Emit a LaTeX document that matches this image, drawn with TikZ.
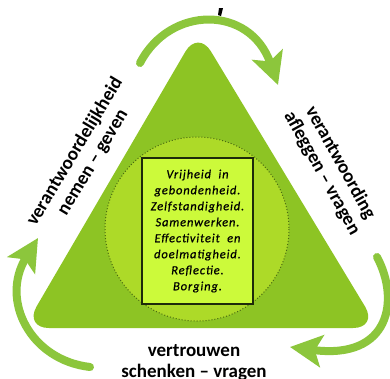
\documentclass[tikz,border=0pt]{standalone}
\usepackage{fontspec}
\setmainfont{Carlito}
\newfontfamily\innerfont[LetterSpace=7,FakeBold=0.5]{Carlito}
\usetikzlibrary{arrows.meta}
\definecolor{trigreen}{HTML}{8DC424}
\definecolor{circgreen}{HTML}{ADDA28}
\definecolor{boxgreen}{HTML}{CCFA3A}
\definecolor{arrowgreen}{HTML}{8CC63C}
\definecolor{dotgreen}{HTML}{4A6A10}
\definecolor{boxline}{HTML}{1E2A0A}
\begin{document}
\begin{tikzpicture}[x=1pt,y=-1pt,
  garrow/.style={draw=arrowgreen, line width=8pt, line cap=round,
    -{Stealth[length=32pt,width=32pt,inset=7pt]}},
  outerlabel/.style={font=\fontsize{19}{21}\selectfont\bfseries, align=center, inner sep=0pt, text=black},
  innerbox/.style={draw=boxline, line width=1.3pt, fill=boxgreen, minimum width=111pt,
    minimum height=146pt, inner sep=0pt, align=center,
    font=\innerfont\itshape\fontsize{12.5}{16}\selectfont}
]
\useasboundingbox (0,0) rectangle (390,378);
\fill[white] (0,0) rectangle (390,378);
% triangle
\fill[trigreen, rounded corners=25pt] (198,30) -- (378,328) -- (24,328) -- cycle;
% circle
\fill[circgreen] (197,229) circle (92);
\draw[dotgreen, dotted, line width=1pt] (197,229) circle (92);
% box
\node[innerbox] (box) at (197.5,231) {Vrijheid\ \ in\\gebondenheid.\\Zelfstandigheid.\\Samenwerken.\\Effectiviteit\ \ en\\doelmatigheid.\\Reflectie.\\Borging.};
% labels
\node[outerlabel, rotate=59] (lefttxt) at (84,157) {verantwoordelijkheid\\nemen – geven};
\node[outerlabel, rotate=-61] (righttxt) at (331,168) {verantwoording\\afleggen – vragen};
\node[outerlabel] (bottomtxt) at (194,363) {vertrouwen\\schenken – vragen};
% arrows
\coordinate (t1) at (140,63);
\coordinate (t2) at (278,85);
\coordinate (r1) at (377,257);
\coordinate (r2) at (290,347);
\coordinate (l1) at (90,367);
\coordinate (l2) at (38,238);
\draw[garrow] (t1) .. controls (170,5) and (250,5) .. (t2);
\draw[garrow] (r1) .. controls (400,300) and (390,360) .. (r2);
\draw[garrow] (l1) .. controls (30,360) and (0,300) .. (l2);
% small mark at top
\fill[black] (219,8) -- (223,8) -- (221,16) -- (218,15) -- cycle;
\end{tikzpicture}
\end{document}
